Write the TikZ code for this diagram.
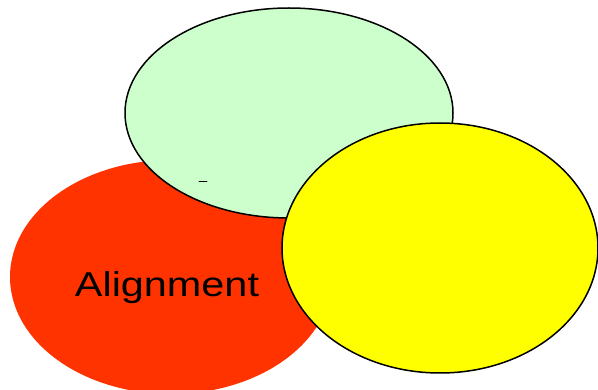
\documentclass[tikz,border=0pt]{standalone}
\usepackage{fontspec}
\setsansfont{Liberation Sans}
\usetikzlibrary{shapes.geometric}
\definecolor{vermilion}{HTML}{FF3300}
\definecolor{mint}{HTML}{CCFFCC}
\definecolor{lemon}{HTML}{FFFF00}
\tikzset{
  blob/.style={
    ellipse, fill=#1, line width=1.5pt,
    inner sep=0pt, outer sep=0pt
  },
  blob/.default=mint,
  blobtext/.style={
    font=\fontsize{34.5}{40}\selectfont\sffamily,
    xscale=1.2, transform shape, inner sep=0pt
  },
}
\begin{document}
\begin{tikzpicture}[x=1pt, y=-1pt]
  \useasboundingbox (0,0) rectangle (598,390);
  \clip (0,0) rectangle (598,390);
  \node[blob=vermilion, minimum width=322pt, minimum height=234pt] (align) at (171,277) {};
  \node[blob=mint, draw=black, minimum width=328pt, minimum height=210pt] (upper) at (289,113) {};
  \node[blob=lemon, draw=black, minimum width=316pt, minimum height=250pt] (right) at (440,248) {};
  \node[blobtext, anchor=base] (alignlbl) at (167,297) {Alignment};
  % stray mark inside the upper ellipse
  \coordinate (mark) at (203,181);
  \draw[line width=0.9pt, line cap=round] ([xshift=-4pt]mark) -- ([xshift=4pt]mark);
\end{tikzpicture}
\end{document}
